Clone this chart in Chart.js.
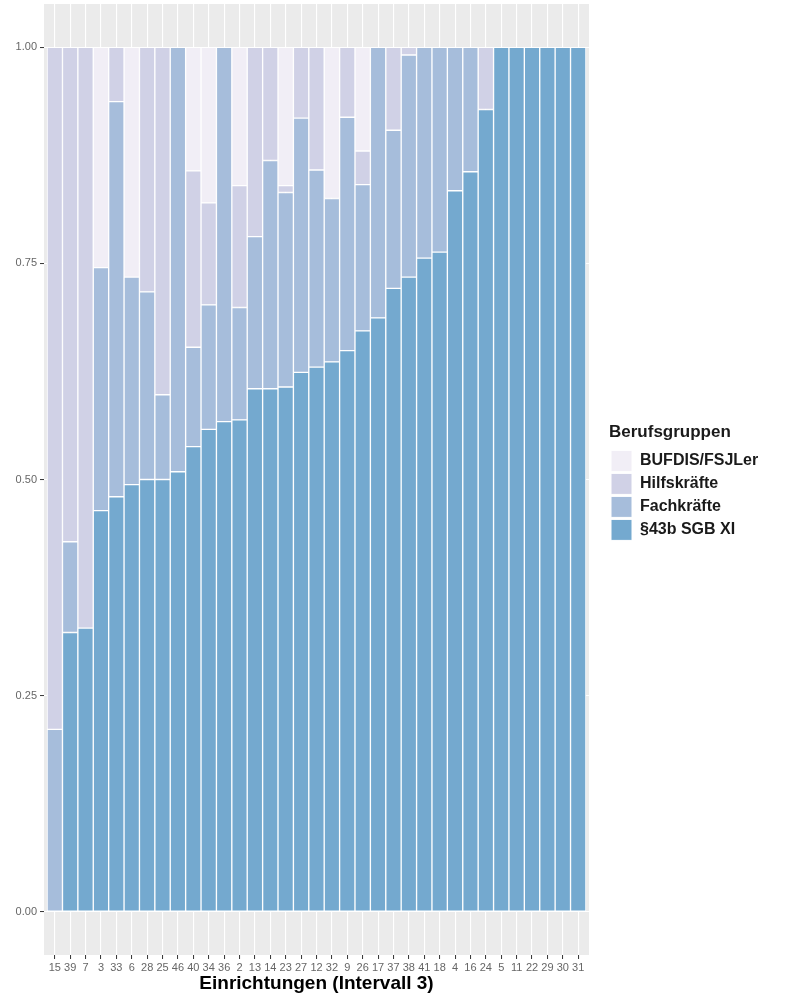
<!DOCTYPE html>
<html>
<head>
<meta charset="utf-8">
<script src="https://cdn.jsdelivr.net/npm/chart.js@4"></script>
<style>
  html, body { margin: 0; padding: 0; background: #ffffff; }
  #wrap { width: 797px; height: 999px; }
</style>
</head>
<body>
<div id="wrap"><canvas id="c" width="797" height="999"></canvas></div>
<script>
// ---- Data ----
const categories = ['15','39','7','3','33','6','28','25','46','40','34','36','2','13','14','23','27','12','32','9','26','17','37','38','41','18','4','16','24','5','11','22','29','30','31'];

const sgb43b = [0, 0.323, 0.328, 0.464, 0.480, 0.494, 0.500, 0.500, 0.509, 0.538, 0.558, 0.567, 0.569, 0.605, 0.605, 0.607, 0.624, 0.630, 0.636, 0.649, 0.672, 0.687, 0.721, 0.734, 0.756, 0.763, 0.834, 0.856, 0.928, 1, 1, 1, 1, 1, 1];
const fachkraefte = [0.211, 0.105, 0, 0.281, 0.457, 0.240, 0.217, 0.098, 0.491, 0.115, 0.144, 0.433, 0.130, 0.176, 0.264, 0.225, 0.294, 0.228, 0.189, 0.270, 0.169, 0.313, 0.183, 0.257, 0.244, 0.237, 0.166, 0.144, 0, 0, 0, 0, 0, 0, 0];
const hilfskraefte = [0.789, 0.572, 0.672, 0, 0.063, 0, 0.283, 0.402, 0, 0.204, 0.118, 0, 0.141, 0.219, 0.131, 0.008, 0.082, 0.142, 0, 0.081, 0.039, 0, 0.096, 0.009, 0, 0, 0, 0, 0.072, 0, 0, 0, 0, 0, 0];
const bufdis = [0, 0, 0, 0.255, 0, 0.266, 0, 0, 0, 0.143, 0.180, 0, 0.160, 0, 0, 0.160, 0, 0, 0.175, 0, 0.120, 0, 0, 0, 0, 0, 0, 0, 0, 0, 0, 0, 0, 0, 0];

const seriesNames = ['§43b SGB XI', 'Fachkräfte', 'Hilfskräfte', 'BUFDIS/FSJLer'];
const seriesColors = ['#74a9cf', '#a6bddb', '#d0d1e6', '#f1eef6'];
const yTickValues = [0, 0.25, 0.5, 0.75, 1];

const xTitle = 'Einrichtungen (Intervall 3)';
const legendTitle = 'Berufsgruppen';

// ---- Build chart ----
const FONT = "'Liberation Sans', Arial, Helvetica, sans-serif";
Chart.defaults.font.family = FONT;

const toPoints = arr => arr.map((v, i) => ({ x: i, y: v }));
const seriesValues = [sgb43b, fachkraefte, hilfskraefte, bufdis];

const datasets = seriesValues.map((vals, k) => ({
  label: seriesNames[k],
  data: toPoints(vals),
  backgroundColor: seriesColors[k],
  borderColor: '#ffffff',
  borderWidth: 1,
  borderSkipped: false,
  barPercentage: 1,
  categoryPercentage: 1
}));

const panelBg = {
  id: 'panelBg',
  beforeDraw(chart) {
    const { ctx, chartArea: a } = chart;
    ctx.save();
    ctx.fillStyle = '#ebebeb';
    ctx.fillRect(a.left, a.top, a.right - a.left, a.bottom - a.top);
    ctx.restore();
  }
};

const noPad = s => { s.paddingTop = 0; s.paddingBottom = 0; s.paddingLeft = 0; s.paddingRight = 0; };

new Chart(document.getElementById('c'), {
  type: 'bar',
  data: { datasets },
  plugins: [panelBg],
  options: {
    responsive: false,
    animation: false,
    devicePixelRatio: 1,
    layout: { padding: { top: 4, right: 38, bottom: 0, left: 0 } },
    plugins: {
      tooltip: { enabled: false },
      legend: {
        display: true,
        position: 'right',
        align: 'start',
        fullSize: false,
        reverse: true,
        maxWidth: 150,
        title: {
          display: true,
          text: legendTitle,
          position: 'start',
          color: '#1a1a1a',
          font: { size: 17, weight: 'bold', family: FONT },
          padding: { top: 420, bottom: 4 }
        },
        labels: {
          boxWidth: 21,
          boxHeight: 21,
          padding: 2,
          color: '#1a1a1a',
          font: { size: 16, weight: 'bold', family: FONT }
        }
      }
    },
    scales: {
      x: {
        type: 'linear',
        stacked: true,
        offset: false,
        min: -0.7,
        max: categories.length - 1 + 0.7,
        afterBuildTicks: s => { s.ticks = categories.map((c, i) => ({ value: i })); },
        afterFit: s => { s.height = 44; noPad(s); },
        grid: {
          display: true,
          offset: false,
          color: '#ffffff',
          lineWidth: 1.1,
          drawTicks: true,
          tickLength: 4,
          tickColor: '#333333',
          tickWidth: 1
        },
        border: { display: false },
        ticks: {
          autoSkip: false,
          maxRotation: 0,
          minRotation: 0,
          padding: 2,
          color: '#666666',
          font: { size: 11, family: FONT },
          callback: v => categories[v]
        },
        title: {
          display: true,
          text: xTitle,
          color: '#000000',
          font: { size: 19, weight: 'bold', family: FONT },
          padding: { top: 0, bottom: 4 }
        }
      },
      y: {
        stacked: true,
        min: -0.05,
        max: 1.05,
        afterBuildTicks: s => { s.ticks = yTickValues.map(v => ({ value: v })); },
        afterFit: s => { s.width = 44; noPad(s); },
        grid: {
          display: true,
          color: '#ffffff',
          lineWidth: 1.1,
          drawTicks: true,
          tickLength: 4,
          tickColor: '#333333',
          tickWidth: 1
        },
        border: { display: false },
        ticks: {
          padding: 3,
          color: '#666666',
          font: { size: 11, family: FONT },
          callback: v => Number(v).toFixed(2)
        }
      },
      yGap: {
        type: 'linear',
        position: 'right',
        display: true,
        afterFit: s => { s.width = 20; noPad(s); },
        grid: { display: false, drawTicks: false },
        border: { display: false },
        ticks: { display: false }
      }
    }
  }
});
</script>
</body>
</html>
